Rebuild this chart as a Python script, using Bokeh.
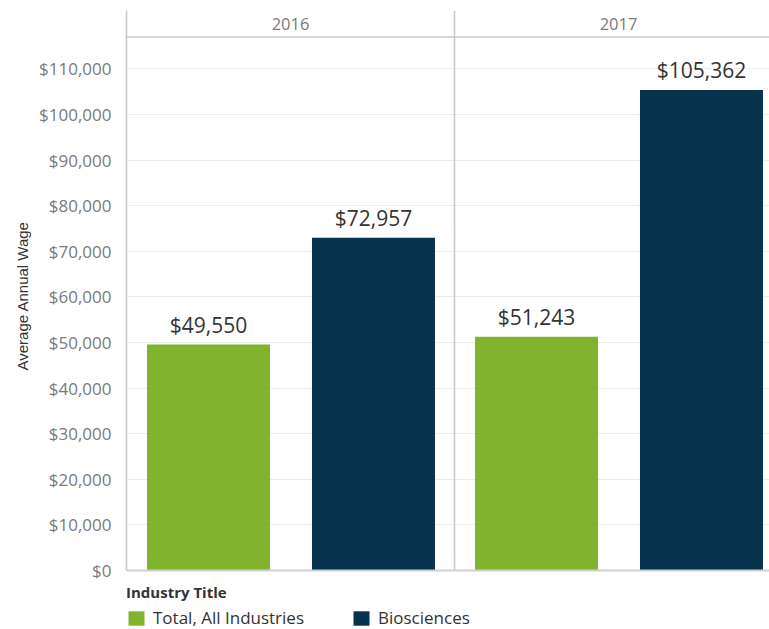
from bokeh.plotting import figure
from bokeh.models import (Range1d, FixedTicker, NumeralTickFormatter, Span, Legend,
                          LegendItem, ColumnDataSource, Title)
from bokeh.core.properties import value
from bokeh.embed import file_html
from bokeh.resources import INLINE

# ---- data ----
years = ["2016", "2017"]
series = ["Total, All Industries", "Biosciences"]
total_wage = [49550, 51243]
bio_wage = [72957, 105362]
y_ticks = [0, 10000, 20000, 30000, 40000, 50000, 60000, 70000, 80000, 90000, 100000, 110000]

GREEN = "#82b32e"
NAVY = "#07334f"
FONT = "Open Sans"

# panel geometry (one unit per year panel)
PANEL_W = 328.0
FRAME_W = 643.0
BAR_W = 0.375
OFFSETS = [0.25, 0.753]
PX_PER_UNIT = 45.61 / 10000.0
Y_END = 122800
Y_START = -59 / PX_PER_UNIT
HEADER_LINE = 116970
HEADER_TEXT = 119930

p = figure(width=769, height=629, output_backend="svg", toolbar_location=None,
           x_range=Range1d(0, FRAME_W / PANEL_W), y_range=Range1d(Y_START, Y_END),
           min_border_left=126, min_border_right=0, min_border_top=10, min_border_bottom=0)
p.outline_line_color = None
p.xaxis.visible = False
p.xgrid.visible = False
p.ygrid.grid_line_color = "#ececec"
p.ygrid.grid_line_width = 1

yax = p.yaxis[0]
yax.ticker = FixedTicker(ticks=y_ticks)
yax.bounds = (0, Y_END)
yax.formatter = NumeralTickFormatter(format="$0,0")
yax.major_tick_line_color = None
yax.minor_tick_line_color = None
yax.axis_line_color = "#c8c8c8"
yax.axis_line_width = 1.5
yax.major_label_text_font = FONT
yax.major_label_text_font_size = "17px"
yax.major_label_text_color = "#7a7a7a"
yax.major_label_standoff = 9

p.add_layout(Title(text="Average Annual Wage", align="left", offset=259,
                   text_font="Liberation Sans", text_font_size="15px",
                   text_font_style="normal", text_color="#333333", standoff=12), "left")

renderers = []
labels_x, labels_y, labels_t = [], [], []
for j, (name, vals, col) in enumerate([(series[0], total_wage, GREEN), (series[1], bio_wage, NAVY)]):
    xs = [i + OFFSETS[j] for i in range(len(years))]
    src = ColumnDataSource(dict(x=xs, top=vals))
    r = p.vbar(x="x", top="top", width=BAR_W, source=src, fill_color=col, line_color=None)
    renderers.append(r)
    labels_x += xs
    labels_y += vals
    labels_t += ["${:,}".format(v) for v in vals]

p.text(x=labels_x, y=labels_y, text=labels_t, text_align="center", text_baseline="bottom",
       y_offset=-6, text_font=value(FONT), text_font_size="21px", text_color="#333333")

# header (year facets)
p.text(x=[i + 0.5 for i in range(len(years))], y=[HEADER_TEXT] * len(years), text=years,
       text_align="center", text_baseline="middle", text_font=value(FONT),
       text_font_size="16.5px", text_color="#7a7a7a")
p.add_layout(Span(location=HEADER_LINE, dimension="width", line_color="#c8c8c8", line_width=1.5))
p.segment(x0=[1], y0=[0], x1=[1], y1=[Y_END], line_color="#c8c8c8", line_width=1.5)
p.segment(x0=[0], y0=[0], x1=[FRAME_W / PANEL_W], y1=[0], line_color="#cfcfcf", line_width=2)

legend = Legend(items=[LegendItem(label=series[0], renderers=[renderers[0]]),
                       LegendItem(label=series[1], renderers=[renderers[1]])],
                orientation="horizontal", location=(0, 0), title="Industry Title",
                title_text_font=FONT, title_text_font_size="15px", title_text_font_style="bold",
                title_text_color="#333333", title_standoff=4,
                label_text_font=FONT, label_text_font_size="17px", label_text_color="#333333",
                glyph_width=20, glyph_height=18, label_standoff=7, spacing=47,
                padding=0, margin=0, border_line_color=None, background_fill_alpha=0)
p.add_layout(legend)

open("out.html", "w").write(file_html(p, INLINE))
